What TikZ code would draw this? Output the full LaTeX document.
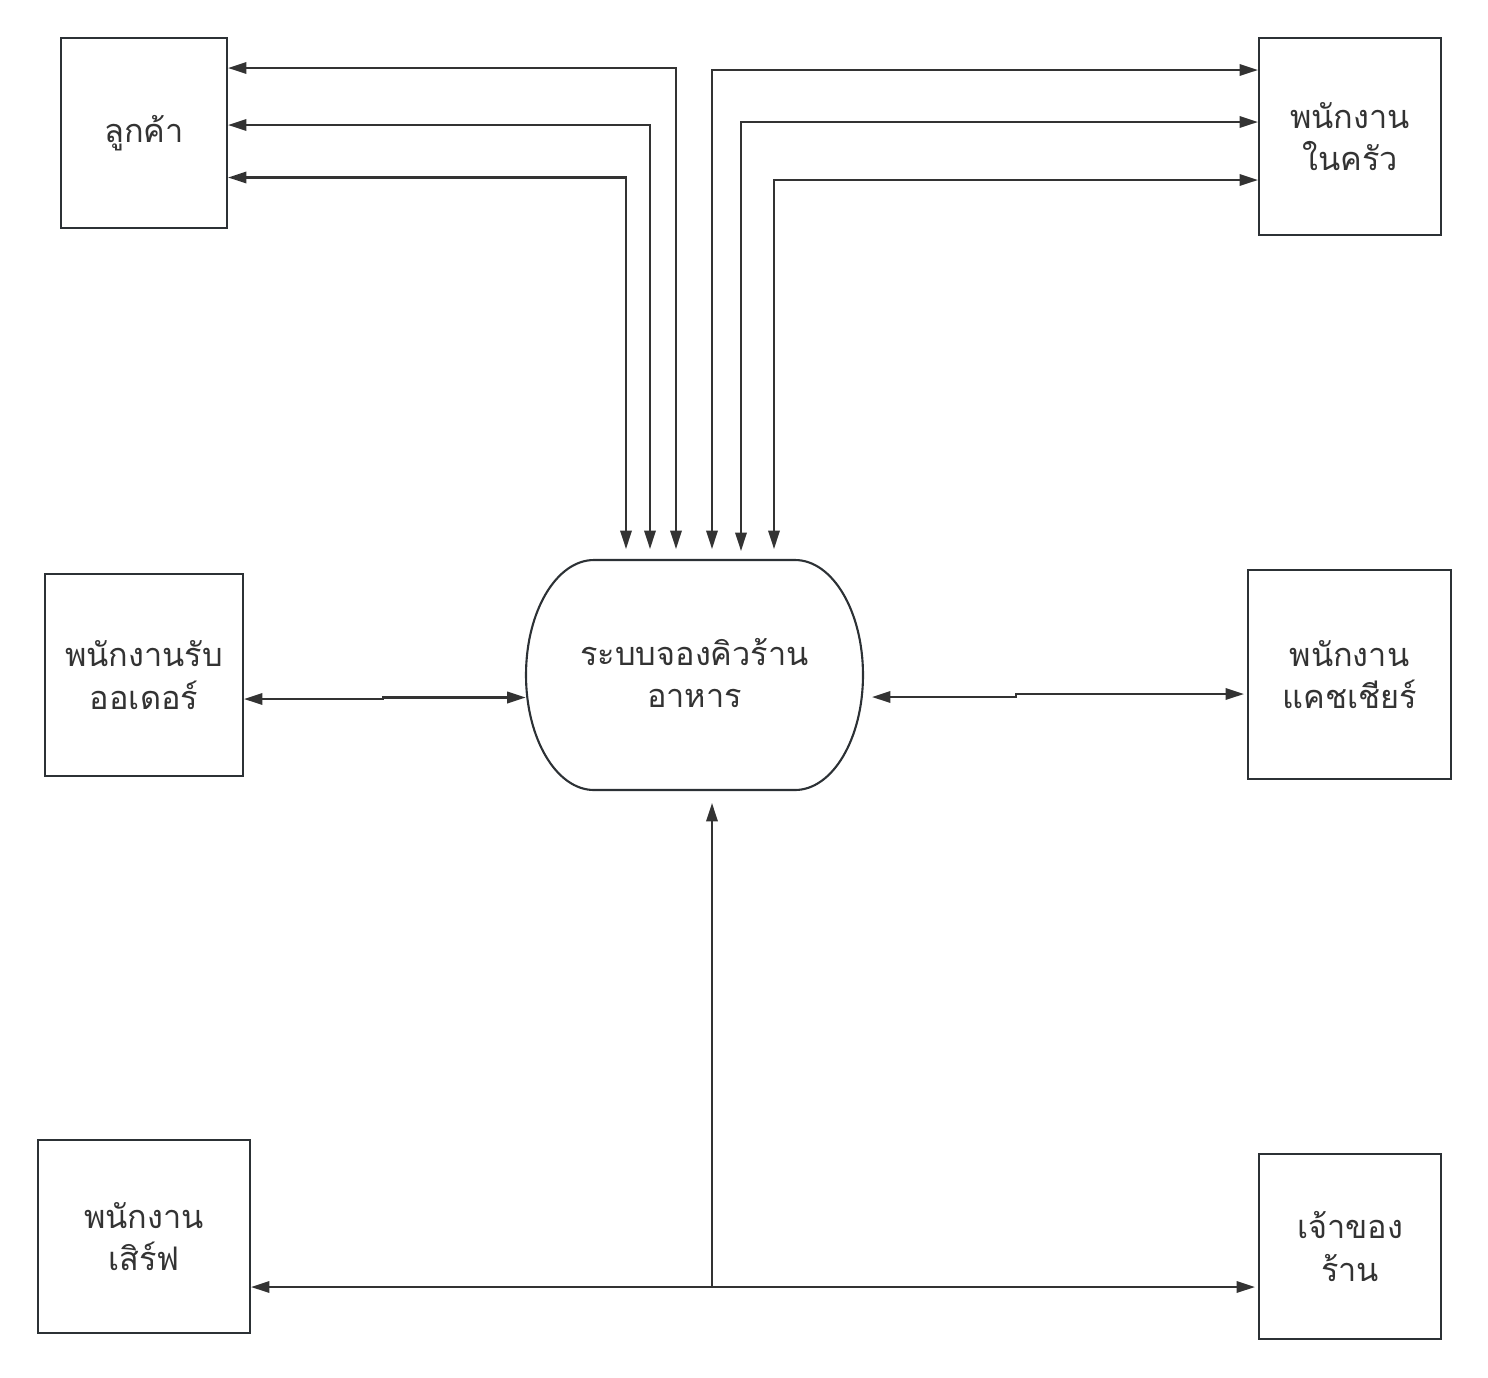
\documentclass[tikz,border=0pt]{standalone}
\usepackage{fontspec}
\newfontfamily\thaifont[Script=Thai]{Loma}
\usetikzlibrary{arrows.meta, positioning}
\definecolor{inkline}{HTML}{333333}
\definecolor{boxline}{HTML}{2C3135}

\begin{document}
\begin{tikzpicture}[x=0.02cm, y=-0.02cm,
    entity/.style={draw=boxline, line width=1.2pt, inner sep=0pt, align=center, text=inkline,
        font=\thaifont\fontsize{18.5}{24}\selectfont},
    procnode/.style={inner sep=0pt, align=center, text=inkline, minimum width=6.74cm, minimum height=4.6cm,
        font=\thaifont\fontsize{18.5}{24}\selectfont},
    flow/.style={draw=inkline, line width=1.2pt, {Triangle[length=10.5pt,width=6.5pt]}-{Triangle[length=10.5pt,width=6.5pt]}},
    oneway/.style={draw=inkline, line width=1.2pt, -{Triangle[length=10.5pt,width=6.5pt]}}]
    \useasboundingbox (0,0) rectangle (1488,1377);

    % Process
    \node[procnode] (sys) at (694.5,673) {ระบบจองคิวร้าน\\อาหาร};
    \draw[boxline, line width=1.2pt] (594,560) -- (795,560)
        .. controls (832.6,560) and (863,611.5) .. (863,675)
        .. controls (863,738.5) and (832.6,790) .. (795,790) -- (594,790)
        .. controls (556.4,790) and (526,738.5) .. (526,675)
        .. controls (526,611.5) and (556.4,560) .. (594,560) -- cycle;

    % Entities
    \node[entity, minimum width=3.32cm, minimum height=3.80cm] (cust) at (144,133) {ลูกค้า};
    \node[entity, minimum width=3.64cm, minimum height=3.94cm] (kitchen) at (1350,136.5) {พนักงาน\\ในครัว};
    \node[entity, minimum width=3.96cm, minimum height=4.04cm] (order) at (144,675) {พนักงานรับ\\ออเดอร์};
    \node[entity, minimum width=4.06cm, minimum height=4.18cm] (cashier) at (1349.5,674.5) {พนักงาน\\แคชเชียร์};
    \node[entity, minimum width=4.24cm, minimum height=3.86cm] (serve) at (144,1236.5) {พนักงาน\\เสิร์ฟ};
    \node[entity, minimum width=3.64cm, minimum height=3.70cm] (owner) at (1350,1246.5) {เจ้าของ\\ร้าน};

    % Points above the process
    \coordinate (c1) at (676,549);
    \coordinate (c2) at (650,549);
    \coordinate (c3) at (626,549);
    \coordinate (k1) at (676,68);
    \coordinate (k2) at (650,125);
    \coordinate (k3) at (626,177.5);
    \coordinate (d1) at (712,549);
    \coordinate (d2) at (741,551);
    \coordinate (d3) at (774,549);
    \coordinate (m1) at (712,70);
    \coordinate (m2) at (741,122);
    \coordinate (m3) at (774,180);

    % Customer flows
    \draw[flow] (c1) -- (k1) -- (cust.east |- k1);
    \draw[flow] (c2) -- (k2) -- (cust.east |- k2);
    \draw[flow] (c3) -- (k3) -- (cust.east |- k3);

    % Kitchen flows
    \draw[flow] (d1) -- (m1) -- (kitchen.west |- m1);
    \draw[flow] (d2) -- (m2) -- (kitchen.west |- m2);
    \draw[flow] (d3) -- (m3) -- (kitchen.west |- m3);

    % Order taker and cashier
    \coordinate (j1) at (383,699);
    \coordinate (j2) at (383,697.5);
    \draw[flow] (order.east |- j1) -- (j1) -- (j2) -- (sys.west |- j2);
    \coordinate (r0) at (872,697);
    \coordinate (r1) at (1016,697);
    \coordinate (r2) at (1016,694);
    \draw[flow] (r0) -- (r1) -- (r2) -- ([xshift=-0.06cm]cashier.west |- r2);

    % Waiter and owner
    \coordinate (b0) at (712,803);
    \coordinate (b1) at (712,1287);
    \draw[oneway] (b1) -- (b0);
    \draw[flow] (serve.east |- b1) -- ([xshift=-0.06cm]owner.west |- b1);
\end{tikzpicture}
\end{document}
